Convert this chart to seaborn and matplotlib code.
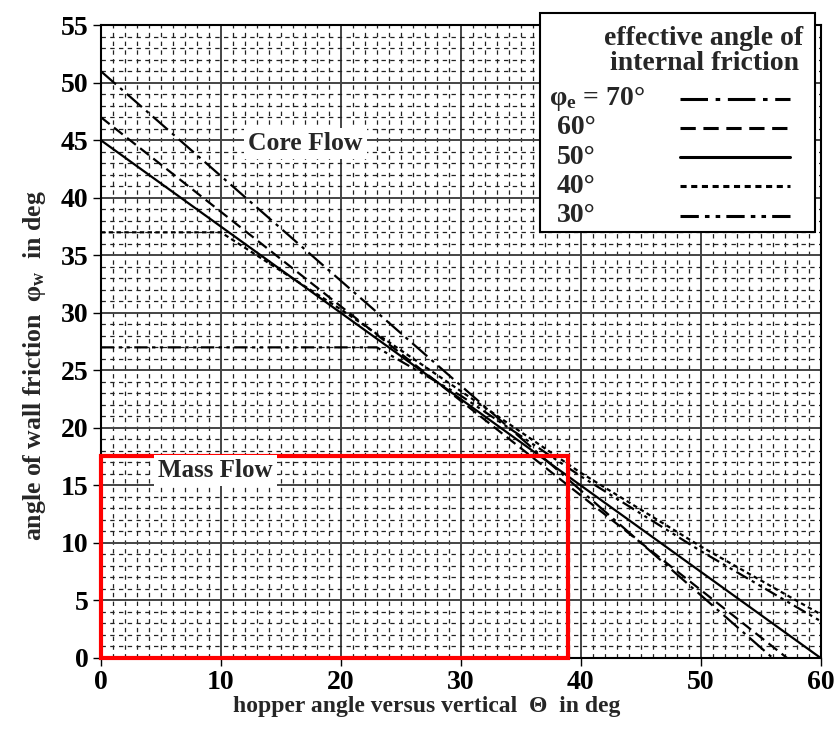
import numpy as np
import pandas as pd
import matplotlib
matplotlib.use("Agg")
import matplotlib.pyplot as plt
from matplotlib.lines import Line2D
from matplotlib.patches import Rectangle
import seaborn as sns

# ---- data ----
series_names = ["70", "60", "50", "40", "30"]
theta_70 = [0, 56.0]
phi_70 = [51.0, 0]
theta_60 = [0, 57.2]
phi_60 = [47.0, 0]
theta_50 = [0, 60.0]
phi_50 = [45.0, 0]
theta_40 = [0, 10.0, 20.0, 30.0, 40.0, 50.0, 60.0]
phi_40 = [37.0, 37.0, 30.3, 23.2, 16.1, 9.7, 3.8]
theta_30 = [0, 23.0, 30.0, 40.0, 50.0, 60.0]
phi_30 = [27.0, 27.0, 22.8, 15.8, 9.3, 3.2]

legend_title = "effective angle of\ninternal friction"
legend_labels = ["φ$_\\mathregular{e}$ = 70°", "60°", "50°", "40°", "30°"]
x_ticks = [0, 10, 20, 30, 40, 50, 60]
y_ticks = [0, 5, 10, 15, 20, 25, 30, 35, 40, 45, 50, 55]
mass_flow_theta_max = 38.9
mass_flow_phi_max = 17.6

sns.set_style("white")
plt.rcParams["font.family"] = ["Liberation Serif", "DejaVu Serif"]
plt.rcParams["font.weight"] = "bold"
plt.rcParams["mathtext.fontset"] = "custom"
plt.rcParams["mathtext.rm"] = "Liberation Serif:bold"
plt.rcParams["mathtext.bf"] = "Liberation Serif:bold"
plt.rcParams["mathtext.it"] = "Liberation Serif:bold:italic"

frames = []
for name, th, ph in zip(series_names,
                        [theta_70, theta_60, theta_50, theta_40, theta_30],
                        [phi_70, phi_60, phi_50, phi_40, phi_30]):
    frames.append(pd.DataFrame({"theta": th, "phi": ph, "series": name}))
df = pd.concat(frames, ignore_index=True)

dash_map = {
    "70": (9, 2.5, 1.5, 2.5),
    "60": (5, 2.5),
    "50": "",
    "40": (2, 1.5),
    "30": (6, 2, 1.5, 2, 1.5, 2),
}
palette = {k: "black" for k in series_names}

W, H = 834, 729
fig = plt.figure(figsize=(W / 100, H / 100), dpi=100)
ax = fig.add_axes([0.121, 0.0974, 0.863, 0.868])

ax.set_xlim(0, 60)
ax.set_ylim(0, 55)
ax.set_xticks(x_ticks)
ax.set_yticks(y_ticks)
ax.set_xticks(np.arange(0, 61, 1), minor=True)
ax.set_yticks(np.arange(0, 56, 1), minor=True)
ax.grid(which="minor", color="#222222", linestyle=(0, (3.5, 3.5)), linewidth=0.9, zorder=0)
ax.grid(which="major", color="#444444", linestyle="-", linewidth=1.4, zorder=0)
ax.set_axisbelow(True)
ax.tick_params(which="major", direction="out", length=6, width=1, colors="black",
               labelsize=20, pad=3, bottom=True, left=True)
ax.tick_params(which="minor", length=0)
for lab in ax.get_xticklabels() + ax.get_yticklabels():
    lab.set_fontweight("bold")

sns.lineplot(data=df, x="theta", y="phi", hue="series", style="series",
             palette=palette, dashes=dash_map, sort=False, estimator=None,
             linewidth=1.6, legend=False, ax=ax, zorder=3)

for s in ax.spines.values():
    s.set_color("black")
    s.set_linewidth(1.5)

ax.add_patch(Rectangle((0, 0), mass_flow_theta_max, mass_flow_phi_max,
                       fill=False, edgecolor="#ff0000", linewidth=3, zorder=4,
                       clip_on=False))

ax.text(12.3, 44.7, "Core Flow", fontsize=18.5, fontweight="bold", ha="left", va="center",
        bbox=dict(facecolor="white", edgecolor="none", pad=3), zorder=5)
ax.text(4.8, 16.3, "Mass Flow", fontsize=18, fontweight="bold", ha="left", va="center",
        bbox=dict(facecolor="white", edgecolor="none", pad=3), zorder=5)

ax.set_xlabel("hopper angle versus vertical  Θ  in deg", fontsize=17, fontweight="bold")
ax.xaxis.set_label_coords(0.453, -0.060)
ax.set_ylabel("angle of wall friction  φ$_\\mathregular{w}$  in deg", fontsize=18.5,
              fontweight="bold")
ax.yaxis.set_label_coords(-0.074, 0.462)

# legend box (frame drawn separately so the title can sit as in the original)
box = Rectangle((540 / W, 1 - 232 / H), 275 / W, 219 / H, transform=fig.transFigure,
                facecolor="white", edgecolor="black", linewidth=1.5, zorder=8)
fig.add_artist(box)
fig.text(704 / W, 1 - 51 / H, legend_title, ha="center", va="center", fontsize=20,
         fontweight="bold", linespacing=1.0, multialignment="center", zorder=9)

handles = []
for k in series_names:
    h = Line2D([], [], color="black", linewidth=2.2, linestyle="-")
    if dash_map[k] != "":
        h.set_dashes(dash_map[k])
    handles.append(h)
leg = fig.legend(handles, [""] * len(handles), loc="upper left",
                 bbox_to_anchor=(680 / W, 1 - 89 / H), bbox_transform=fig.transFigure,
                 fontsize=20, handlelength=3.95, handletextpad=0, labelspacing=0.135,
                 frameon=False, borderpad=0, borderaxespad=0)
leg.set_zorder(10)

# legend labels placed left-aligned as in the original
fig.canvas.draw()
inv = fig.transFigure.inverted()
label_x = [549, 557, 557, 557, 557]
for lab, line, lx in zip(legend_labels, leg.get_lines(), label_x):
    bb = line.get_window_extent(fig.canvas.get_renderer())
    yc = (bb.y0 + bb.y1) / 2
    fy = inv.transform((0, yc))[1]
    fig.text(lx / W, fy, lab, ha="left", va="center", fontsize=20, fontweight="bold", zorder=11)

fig.savefig("out.png", dpi=100, facecolor="white")
